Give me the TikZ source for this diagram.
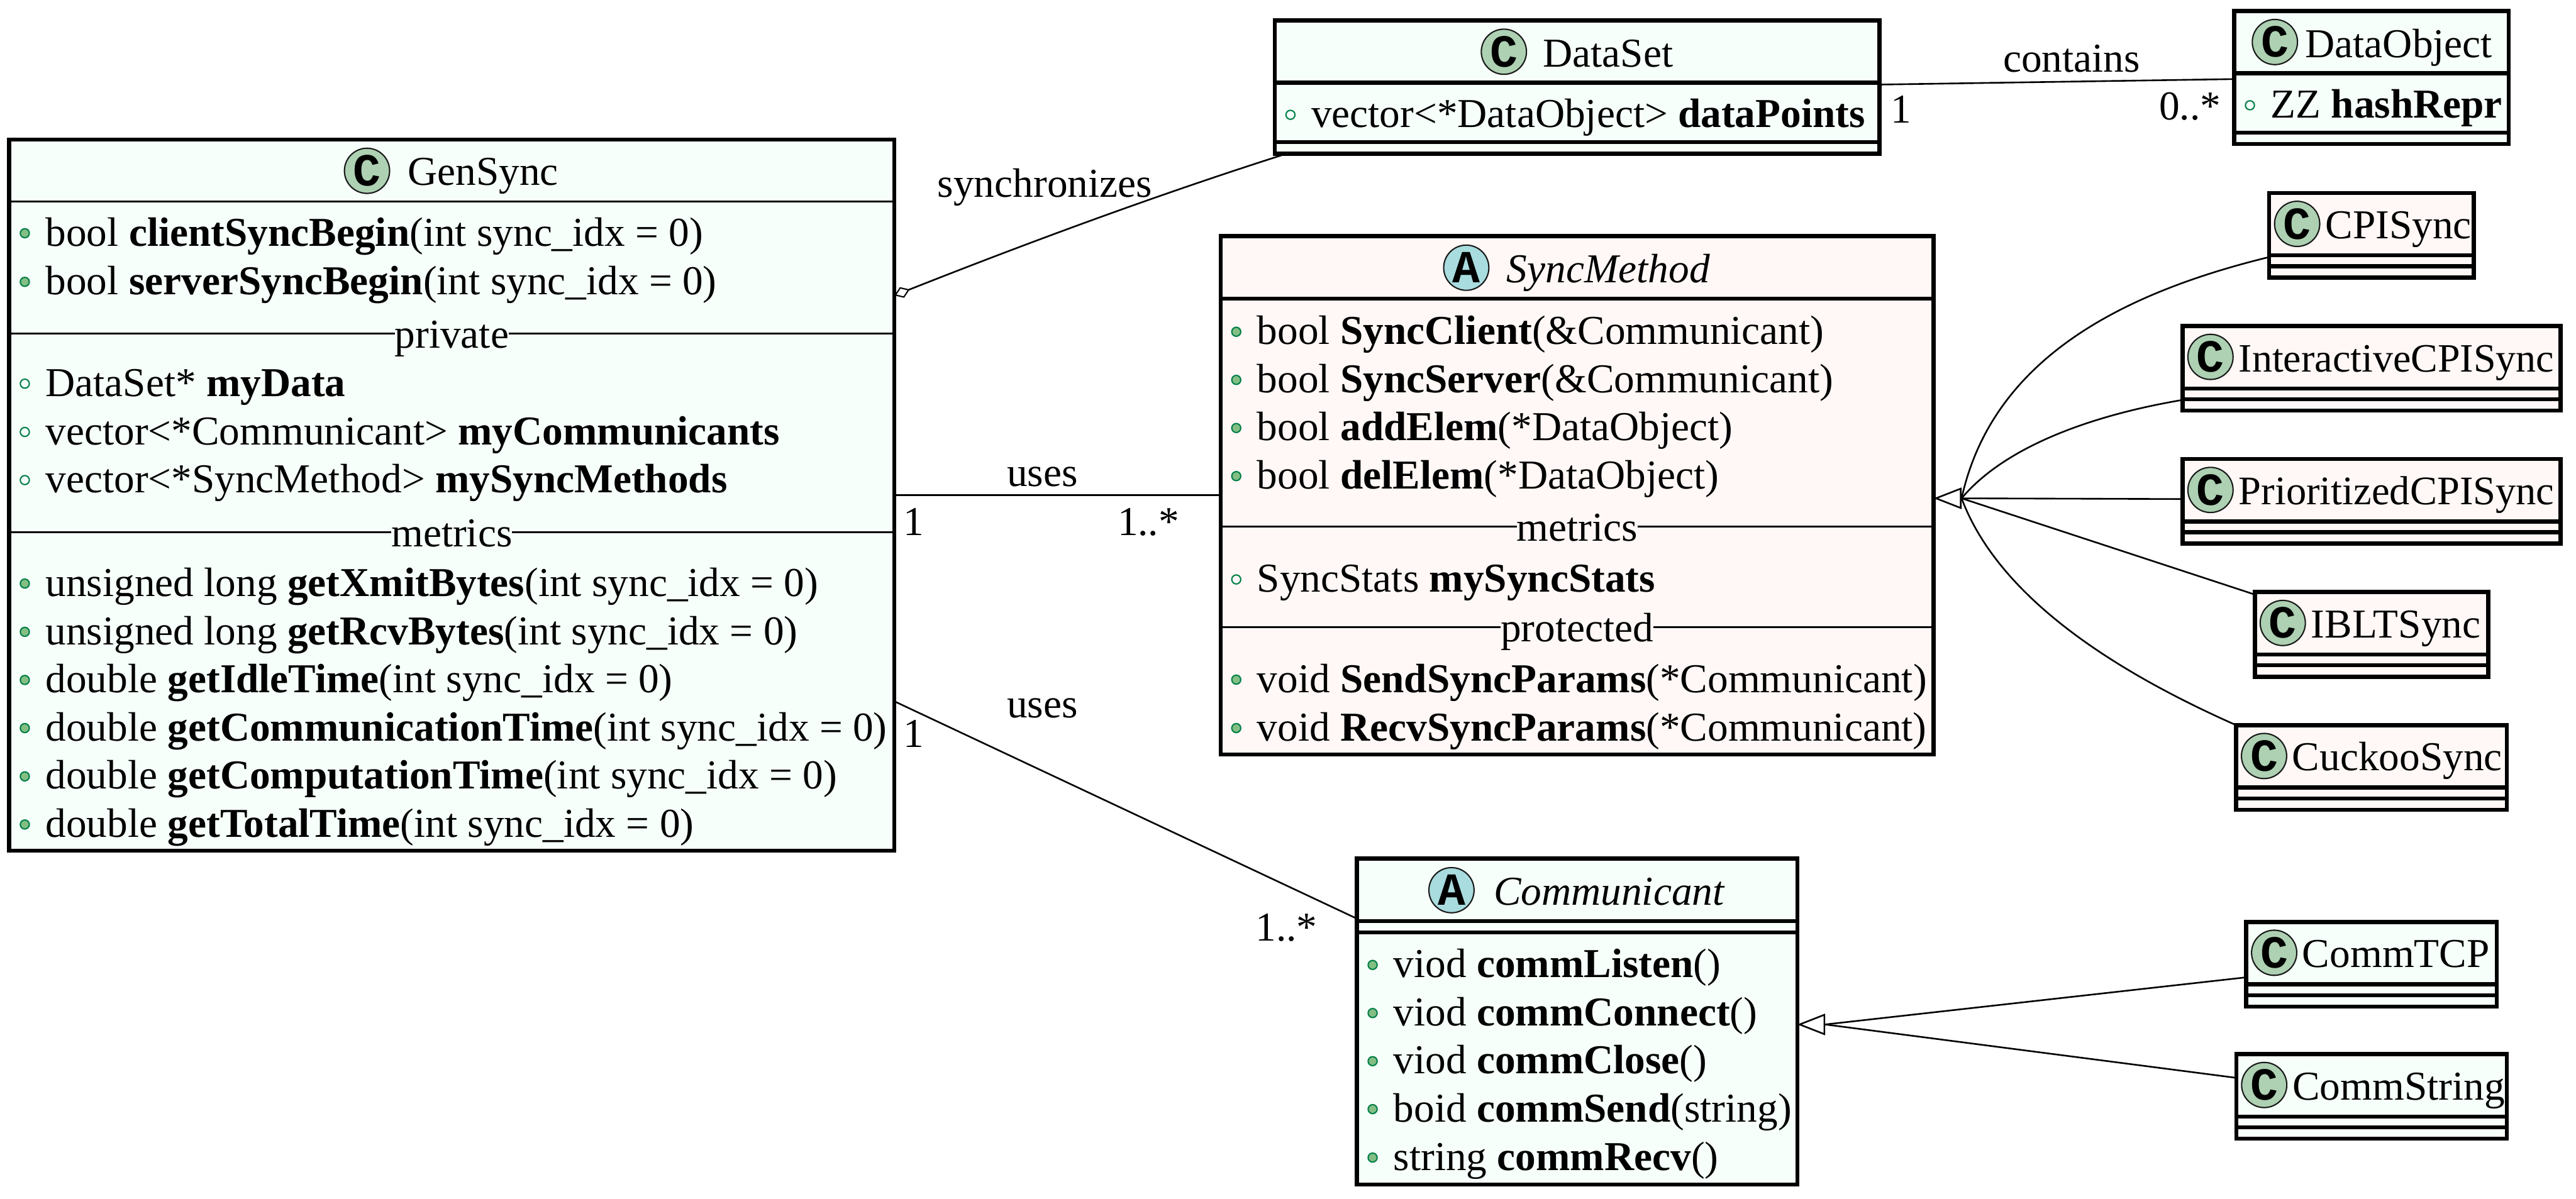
\documentclass[tikz,border=0pt]{standalone}
\usepackage{fontspec}
\setmainfont{Liberation Serif}
\newfontfamily\badgefont{Liberation Mono}
\usetikzlibrary{arrows.meta, positioning}

\definecolor{mint}{HTML}{F6FFFA}
\definecolor{shell}{HTML}{FFF8F6}
\definecolor{spotc}{HTML}{ADD1B2}
\definecolor{spota}{HTML}{A9DCDF}
\definecolor{dotline}{HTML}{038048}
\definecolor{dotfill}{HTML}{84BE84}

\tikzset{
  classbox/.style={draw, line width=2.5pt, fill=#1, outer sep=0pt, inner sep=0pt},
  classbox/.default=mint,
  badge/.style={draw=black!90, line width=0.8pt, fill=spotc, circle, inner sep=0pt, minimum size=27.5pt,
    font={\badgefont\bfseries\fontsize{28}{28}\selectfont}},
  titletext/.style={anchor=base west, inner sep=0pt},
  membertext/.style={anchor=base west, inner sep=0pt, xshift=22pt},
  pubdot/.style={draw=dotline, fill=dotfill, line width=0.8pt, circle, inner sep=0pt, minimum size=5.5pt, xshift=9.5pt, yshift=7.7pt},
  privdot/.style={draw=dotline, line width=0.8pt, circle, inner sep=0pt, minimum size=5.5pt, xshift=9.5pt, yshift=7.7pt},
  seclabel/.style={anchor=base, inner xsep=0pt, inner ysep=0pt},
  linklabel/.style={anchor=base, inner sep=0pt},
  thickrule/.style={line width=2.5pt},
  thinrule/.style={line width=1.2pt},
  link/.style={line width=1pt},
  inherits/.style={line width=1pt, -{Triangle[fill=white, length=17pt, width=13pt]}},
  aggregates/.style={line width=1pt, {Diamond[fill=white, length=10pt, width=7pt, line width=0.8pt]}-}
}

% rows of a class: baseline / dot style / text
\newcommand{\memberrows}[2]{
  \foreach \rowy/\rowkind/\rowtext [count=\rowi] in {#2} {
    \node[\rowkind] (#1-dot-\rowi) at (#1.west |- 0,\rowy) {};
    \node[membertext] (#1-row-\rowi) at (#1.west |- 0,\rowy) {\rowtext};
  }
}
\newcommand{\classrule}[3]{\draw[#2] (#1.west |- 0,#3) -- (#1.east |- 0,#3);}
% class with nothing in its two compartments
\newcommand{\stubclass}[2][25]{
  \node[badge] (#2-badge) at ([xshift=17pt,yshift=-18.8pt]#2.north west) {C};
  \node[titletext, font=\fontsize{#1}{30}\selectfont] (#2-name) at ([xshift=34pt,yshift=-27.8pt]#2.north west) {#2};
  \draw[thickrule] ([yshift=-38pt]#2.north west) -- ([yshift=-38pt]#2.north east);
  \draw[thickrule] ([yshift=-44.6pt]#2.north west) -- ([yshift=-44.6pt]#2.north east);
}

\begin{document}
\begin{tikzpicture}[x=1pt, y=-1pt, font=\fontsize{25}{30}\selectfont]
    \useasboundingbox (0,0) rectangle (1568,730);

    % middle column
    \node[classbox, minimum width=368pt, minimum height=81.2pt] (DataSet) at (960,53) {};
    \node[classbox=shell, minimum width=434pt, minimum height=315.6pt, below=50.1pt of DataSet] (SyncMethod) {};
    \node[classbox, minimum width=268pt, minimum height=198.5pt, below=63.5pt of SyncMethod] (Communicant) {};
    \node[classbox, minimum width=538.8pt, minimum height=433pt, left=198.6pt of SyncMethod] (GenSync) {};

    % right column
    \node[classbox, minimum width=167pt, minimum height=80.9pt] (DataObject) at (1443.5,47.15) {};
    \node[classbox=shell, minimum width=124.5pt, minimum height=51.5pt, below=29.9pt of DataObject] (CPISync) {};
    \node[classbox=shell, minimum width=230pt, minimum height=51.5pt, below=29.5pt of CPISync] (InteractiveCPISync) {};
    \node[classbox=shell, minimum width=230pt, minimum height=51.5pt, below=29.5pt of InteractiveCPISync] (PrioritizedCPISync) {};
    \node[classbox=shell, minimum width=142pt, minimum height=51.5pt, below=29.5pt of PrioritizedCPISync] (IBLTSync) {};
    \node[classbox=shell, minimum width=164.8pt, minimum height=51.5pt, below=29.5pt of IBLTSync] (CuckooSync) {};
    \node[classbox, minimum width=152.5pt, minimum height=51.5pt, below=68.3pt of CuckooSync] (CommTCP) {};
    \node[classbox, minimum width=164.6pt, minimum height=51.5pt, below=29pt of CommTCP] (CommString) {};

    \stubclass{CPISync}
    \stubclass[24.5]{InteractiveCPISync}
    \stubclass[24.7]{PrioritizedCPISync}
    \stubclass{IBLTSync}
    \stubclass{CuckooSync}
    \stubclass{CommTCP}
    \stubclass{CommString}

    % GenSync
    \node[badge] (GenSync-badge) at (223.4,104) {C};
    \node[titletext] (GenSync-name) at (248,112.7) {GenSync};
    \classrule{GenSync}{thinrule}{122.8}
    \classrule{GenSync}{thinrule}{203}
    \classrule{GenSync}{thinrule}{324}
    \node[seclabel, fill=mint] (GenSync-private) at (GenSync.center |- 0,211.8) {private};
    \node[seclabel, fill=mint] (GenSync-metrics) at (GenSync.center |- 0,332.8) {metrics};
    \memberrows{GenSync}{
      149.7/pubdot/{bool \textbf{clientSyncBegin}(int sync\_idx = 0)},
      179.3/pubdot/{bool \textbf{serverSyncBegin}(int sync\_idx = 0)},
      241.3/privdot/{DataSet* \textbf{myData}},
      270.7/privdot/{vector<*Communicant> \textbf{myCommunicants}},
      300/privdot/{vector<*SyncMethod> \textbf{mySyncMethods}},
      363/pubdot/{unsigned long \textbf{getXmitBytes}(int sync\_idx = 0)},
      392.4/pubdot/{unsigned long \textbf{getRcvBytes}(int sync\_idx = 0)},
      421.7/pubdot/{double \textbf{getIdleTime}(int sync\_idx = 0)},
      451/pubdot/{double \textbf{getCommunicationTime}(int sync\_idx = 0)},
      480.4/pubdot/{double \textbf{getComputationTime}(int sync\_idx = 0)},
      509.7/pubdot/{double \textbf{getTotalTime}(int sync\_idx = 0)}}

    % DataSet
    \node[badge] (DataSet-badge) at (915.4,31.5) {C};
    \node[titletext] (DataSet-name) at (939,40.6) {DataSet};
    \classrule{DataSet}{thickrule}{50.4}
    \classrule{DataSet}{thickrule}{86.5}
    \memberrows{DataSet}{77.6/privdot/{vector<*DataObject> \textbf{dataPoints}}}

    % DataObject
    \node[badge] (DataObject-badge) at (1384.7,25.6) {C};
    \node[titletext] (DataObject-name) at (1403,34.9) {DataObject};
    \classrule{DataObject}{thickrule}{44.6}
    \classrule{DataObject}{thickrule}{80.7}
    \memberrows{DataObject}{71.8/privdot/{ZZ \textbf{hashRepr}}}

    % SyncMethod
    \node[badge, fill=spota] (SyncMethod-badge) at (892.5,163) {A};
    \node[titletext] (SyncMethod-name) at (917,172) {\textit{SyncMethod}};
    \classrule{SyncMethod}{thickrule}{181.8}
    \classrule{SyncMethod}{thinrule}{320.5}
    \classrule{SyncMethod}{thinrule}{382}
    \node[seclabel, fill=shell] (SyncMethod-metrics) at (SyncMethod.center |- 0,329.3) {metrics};
    \node[seclabel, fill=shell] (SyncMethod-protected) at (SyncMethod.center |- 0,390.8) {protected};
    \memberrows{SyncMethod}{
      209.7/pubdot/{bool \textbf{SyncClient}(\&Communicant)},
      239/pubdot/{bool \textbf{SyncServer}(\&Communicant)},
      268.3/pubdot/{bool \textbf{addElem}(*DataObject)},
      297.6/pubdot/{bool \textbf{delElem}(*DataObject)},
      360.5/privdot/{SyncStats \textbf{mySyncStats}},
      421.5/pubdot/{void \textbf{SendSyncParams}(*Communicant)},
      451/pubdot/{void \textbf{RecvSyncParams}(*Communicant)}}

    % Communicant
    \node[badge, fill=spota] (Communicant-badge) at (883.5,542) {A};
    \node[titletext] (Communicant-name) at (909,551) {\textit{Communicant}};
    \classrule{Communicant}{thickrule}{560.8}
    \classrule{Communicant}{thickrule}{567.7}
    \memberrows{Communicant}{
      595.2/pubdot/{viod \textbf{commListen}()},
      624.5/pubdot/{viod \textbf{commConnect}()},
      653.8/pubdot/{viod \textbf{commClose}()},
      683/pubdot/{boid \textbf{commSend}(string)},
      712.5/pubdot/{string \textbf{commRecv}()}}

    % connectors
    \coordinate (SyncHub) at ([xshift=17pt,yshift=-1.9pt]SyncMethod.east);
    \coordinate (CommHub) at ([xshift=17pt,yshift=-1.7pt]Communicant.east);
    \draw[aggregates] ([yshift=121.6pt]GenSync.east) .. controls (620,150) and (700,120) .. ([xshift=-177pt]DataSet.south);
    \draw[link] ([yshift=1.5pt]DataSet.east) -- ([yshift=-1pt]DataObject.west);
    \draw[link] (GenSync.east) -- (SyncMethod.west);
    \draw[link] ([yshift=-125.5pt]GenSync.east) -- ([yshift=62.7pt]Communicant.west);
    \draw[link] ([yshift=-39pt]CPISync.north west) .. controls (1285,180) and (1212,222) .. (SyncHub);
    \draw[link] ([yshift=-45pt]InteractiveCPISync.north west) .. controls (1278,252) and (1222,270) .. (SyncHub);
    \draw[link] ([yshift=1.4pt]PrioritizedCPISync.west) -- (SyncHub);
    \draw[link] ([yshift=-1.5pt]IBLTSync.north west) -- (SyncHub);
    \draw[link] (CuckooSync.north west) .. controls (1290,410) and (1217,365) .. (SyncHub);
    \draw[link] ([yshift=-8pt]CommTCP.west) -- (CommHub);
    \draw[link] ([yshift=11.3pt]CommString.west) -- (CommHub);
    \draw[inherits] (SyncHub) -- ([yshift=-1.9pt]SyncMethod.east);
    \draw[inherits] (CommHub) -- ([yshift=-1.7pt]Communicant.east);

    % labels on the connectors
    \node[linklabel] (synchronizes) at (636,120) {synchronizes};
    \node[linklabel] (contains) at (1261,44) {contains};
    \node[linklabel] (DataSet-one) at (1157,75) {1};
    \node[linklabel] (DataObject-many) at (1333,73) {0..*};
    \node[linklabel] (uses-top) at (634.5,296) {uses};
    \node[linklabel] (GenSync-one) at (556,326) {1};
    \node[linklabel] (SyncMethod-many) at (699,326) {1..*};
    \node[linklabel] (uses-low) at (634.5,437) {uses};
    \node[linklabel] (GenSync-two) at (556,455) {1};
    \node[linklabel] (Communicant-many) at (783,573) {1..*};
\end{tikzpicture}
\end{document}
